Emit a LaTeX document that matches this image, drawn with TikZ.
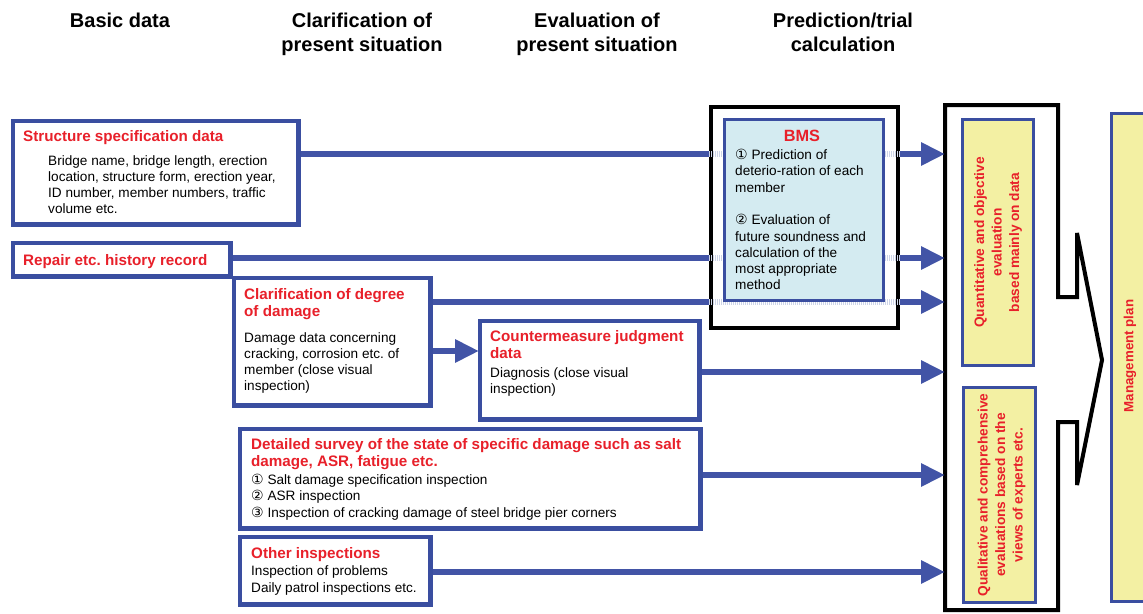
\documentclass[tikz,border=0pt]{standalone}
\usepackage{fontspec}
\setmainfont{Liberation Sans}
\newfontfamily\symf{DejaVu Sans}
\usetikzlibrary{arrows.meta}
\frenchspacing
\definecolor{bblue}{RGB}{58,78,160}
\definecolor{ablue}{RGB}{66,84,166}
\definecolor{tred}{RGB}{232,32,42}
\definecolor{bmsfill}{RGB}{212,235,241}
\definecolor{yfill}{RGB}{243,240,163}
\definecolor{haze}{RGB}{205,212,232}
\newcommand{\cnum}[1]{{\symf\fontsize{14}{16}\selectfont #1}}
\tikzset{
  box/.style={draw=bblue, line width=3pt, fill=white, inner sep=0pt, anchor=north west},
  ybox/.style={box, fill=yfill},
  ttl/.style={text=tred, font=\bfseries\fontsize{15.2}{17}\selectfont, anchor=north west, inner sep=0pt, align=left},
  txt/.style={font=\fontsize{13.6}{16.3}\selectfont, anchor=north west, inner sep=0pt, align=left},
  hdr/.style={font=\bfseries\fontsize{20}{24}\selectfont, anchor=north, inner sep=0pt, align=center},
  vtxt/.style={text=tred, font=\bfseries\fontsize{13.7}{17.5}\selectfont, rotate=90, align=center, inner sep=0pt},
  flow/.style={draw=ablue, line width=6.5pt, -{Triangle[length=24pt,width=22pt]}},
  hazy/.style={draw=haze, line width=6.5pt, dash pattern=on 1pt off 1pt},
  frame/.style={draw=black, line width=4pt, line join=miter}
}
\begin{document}
\begin{tikzpicture}[x=1pt,y=-1pt]
\useasboundingbox (0,0) rectangle (1143,613);

% column headings
\node[hdr] (h1) at (120,13) {Basic data};
\node[hdr] (h2) at (362,13) {Clarification of\\present situation};
\node[hdr] (h3) at (597,13) {Evaluation of\\present situation};
\node[hdr] (h4) at (843,13) {Prediction/trial\\calculation};

% evaluation frame with the chevron towards the plan
\draw[frame, fill=white] (945,105) -- (1058,105) -- (1058,297) -- (1077,297) -- (1077,233)
  -- (1102,360) -- (1077,485) -- (1077,422) -- (1058,422) -- (1058,610) -- (945,610) -- cycle;

% arrow end points on the frame
\coordinate (t1) at (945,154);
\coordinate (t2) at (945,258);
\coordinate (t3) at (945,302);
\coordinate (t4) at (945,372);
\coordinate (t5) at (945,475);
\coordinate (t6) at (945,572);
\coordinate (m34) at (0,351);

% input boxes
\node[box, minimum width=284pt, minimum height=102pt] (b1) at (12,120) {};
\node[box, minimum width=216pt, minimum height=32pt] (b2) at (12,242) {};
\node[box, minimum width=195pt, minimum height=126pt] (b3) at (233,277) {};
\node[box, minimum width=218pt, minimum height=97pt] (b4) at (479,320) {};
\node[box, minimum width=459pt, minimum height=98pt] (b5) at (239,428) {};
\node[box, minimum width=189pt, minimum height=66pt] (b6) at (239,536) {};

% flows into the frame
\draw[flow] (b1.east |- t1) -- (t1);
\draw[flow] (b2.east |- t2) -- (t2);
\draw[flow] (b3.east |- t3) -- (t3);
\draw[flow] (b4.east |- t4) -- (t4);
\draw[flow] (b5.east |- t5) -- (t5);
\draw[flow] (b6.east |- t6) -- (t6);
\draw[flow] (b3.east |- m34) -- (b4.west |- m34);

% box borders over the line starts
\foreach \b in {b1,b2,b3,b4,b5,b6} {\draw[draw=bblue, line width=3pt] (\b.north west) rectangle (\b.south east);}

% BMS block
\node[anchor=north west, draw=black, line width=4pt, fill=white, minimum width=187pt, minimum height=221pt, inner sep=0pt] (bmso) at (709,105) {};
\draw[hazy] (bmso.west |- t1) -- (bmso.east |- t1);
\draw[hazy] (bmso.west |- t2) -- (bmso.east |- t2);
\draw[hazy] (bmso.west |- t3) -- (bmso.east |- t3);
\node[box, fill=bmsfill, minimum width=159pt, minimum height=181pt] (bms) at (723,118) {};
\node[text=tred, font=\bfseries\fontsize{16.3}{18}\selectfont, inner sep=0pt] (bmst) at (802,136) {BMS};
\node[txt] (bmsx) at (735,149) {\cnum{①} Prediction of\\deterio-ration of each\\member\\[16.3pt]\cnum{②} Evaluation of\\future soundness and\\calculation of the\\most appropriate\\method};

% box texts
\node[ttl] (b1t) at (23,130.5) {Structure specification data};
\node[txt] (b1x) at (48,155) {Bridge name, bridge length, erection\\location, structure form, erection year,\\ID number, member numbers, traffic\\volume etc.};
\node[ttl] (b2t) at (23,254.5) {Repair etc. history record};
\node[ttl] (b3t) at (244,288.5) {Clarification of degree\\of damage};
\node[txt] (b3x) at (244,332) {Damage data concerning\\cracking, corrosion etc. of\\member (close visual\\inspection)};
\node[ttl] (b4t) at (490,330.5) {Countermeasure judgment\\data};
\node[txt] (b4x) at (490,367) {Diagnosis (close visual\\inspection)};
\node[ttl] (b5t) at (251,438.5) {Detailed survey of the state of specific damage such as salt\\damage, ASR, fatigue etc.};
\node[txt] (b5x) at (251,474) {\cnum{①} Salt damage specification inspection\\\cnum{②} ASR inspection\\\cnum{③} Inspection of cracking damage of steel bridge pier corners};
\node[ttl] (b6t) at (251,547.5) {Other inspections};
\node[txt, font=\fontsize{13.6}{17}\selectfont] (b6x) at (251,565) {Inspection of problems\\Daily patrol inspections etc.};

% evaluation boxes
\node[ybox, minimum width=71pt, minimum height=246pt] (y1) at (961,118) {};
\node[vtxt] (y1t) at (y1.center) {Quantitative and objective\\evaluation\\based mainly on data};
\node[ybox, minimum width=72pt, minimum height=215pt] (y2) at (962,386) {};
\node[vtxt] (y2t) at ([xshift=2pt]y2.center) {Qualitative and comprehensive\\evaluations based on the\\views of experts etc.};

% management plan
\node[ybox, minimum width=60pt, minimum height=488pt] (mp) at (1110,112) {};
\node[vtxt, font=\bfseries\fontsize{13.3}{16}\selectfont] (mpt) at (1130,356) {Management plan};
\end{tikzpicture}
\end{document}
